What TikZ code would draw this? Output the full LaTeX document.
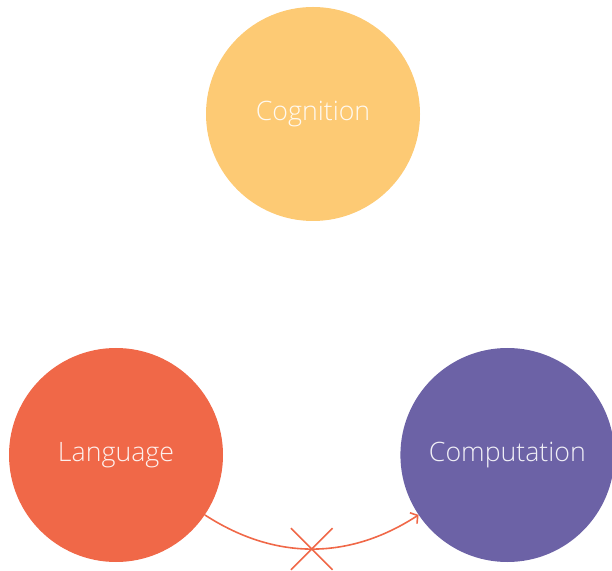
\documentclass[tikz,border=0pt]{standalone}
\usepackage{fontspec}
\setmainfont{Open Sans}[UprightFont={* Light}]
\usepackage{tikz}
\usetikzlibrary{arrows.meta, positioning, shapes.misc}
\definecolor{cogyellow}{HTML}{FDCA74}
\definecolor{langorange}{HTML}{F06848}
\definecolor{comppurple}{HTML}{6C62A6}
\tikzset{
    topic/.style={circle, minimum size=214pt, inner sep=0pt, text=white, text opacity=0.9, font=\fontsize{26.7}{30}\selectfont},
    link/.style={line width=1.6pt, draw=langorange, -{Straight Barb[length=5pt, width=13pt]}},
    blocked/.style={cross out, draw=langorange, line width=1.6pt, minimum size=40pt, inner sep=0pt},
}
\begin{document}
\begin{tikzpicture}[x=1pt, y=1pt, node distance=177pt]
    \useasboundingbox (0,0) rectangle (612,570);

    \node [topic, fill=cogyellow] (cog) at (313,456) {Cognition};
    \node [topic, fill=langorange] (lang) at (116,115) {Language};
    \node [topic, fill=comppurple, right=of lang] (comp) {Computation};

    % language does not lead to computation
    \draw [link] (lang.-34) to[bend right=33] node[blocked, pos=0.5] (cut) {} (comp.-146);
\end{tikzpicture}
\end{document}
